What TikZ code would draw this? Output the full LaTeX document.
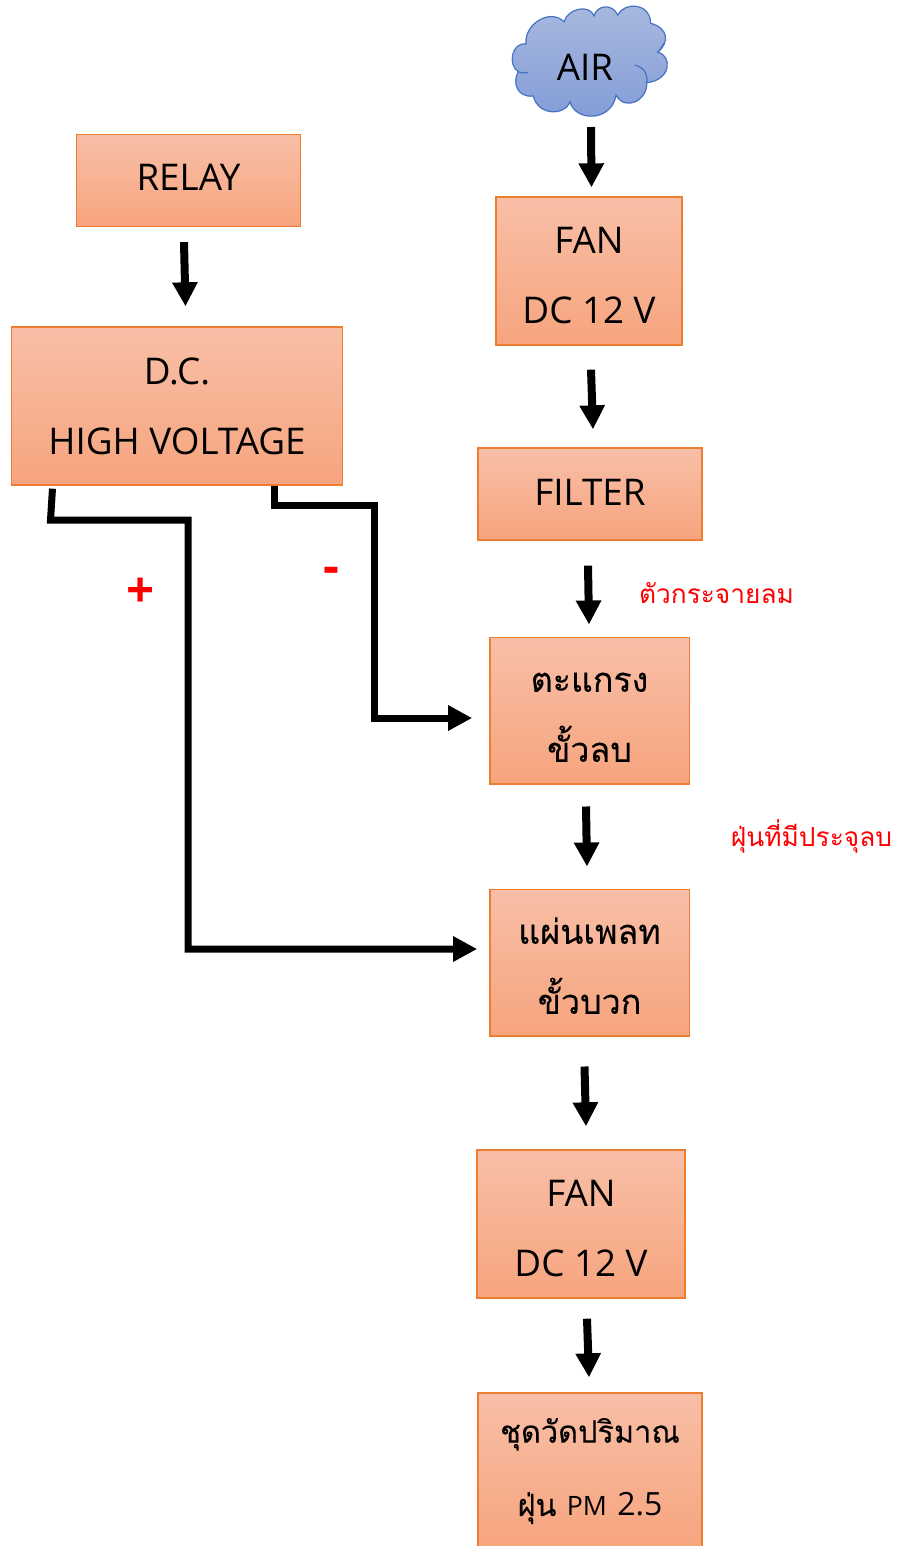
\documentclass[tikz,border=0pt]{standalone}
\usepackage{fontspec}
\setmainfont{Open Sans}
\newfontfamily\thaifont[Script=Thai]{Loma}
\newfontfamily\thaiboxfont[Script=Thai,FakeBold=0.2]{Loma}
\usetikzlibrary{arrows.meta}
\definecolor{boxedge}{HTML}{ED7D31}
\definecolor{boxtop}{HTML}{F8BFA7}
\definecolor{boxbottom}{HTML}{F7A47E}
\definecolor{cloudedge}{HTML}{4472C4}
\definecolor{cloudtop}{HTML}{A9B9DF}
\definecolor{cloudbottom}{HTML}{829CD6}
\tikzset{
    flowbox/.style={draw=boxedge, line width=1pt, top color=boxtop, bottom color=boxbottom,
        align=center, inner sep=0pt, text=black, font=\fontsize{27.6}{52.5}\selectfont},
    thaibox/.style={flowbox, font=\fontsize{25.5}{52.5}\selectfont\thaiboxfont},
    flowarrow/.style={line width=6pt, -{Triangle[length=18pt,width=18pt]}},
    wirearrow/.style={line width=5.25pt, miter limit=10, -{Triangle[length=18pt,width=18pt]}},
    redlabel/.style={text=red, font=\fontsize{19.7}{24}\selectfont\thaifont, inner sep=0pt},
    signlabel/.style={text=red, font=\fontsize{37}{40}\bfseries, inner sep=0pt}
}
\begin{document}
\begin{tikzpicture}[x=0.75pt, y=-0.75pt]
    \useasboundingbox (0,0) rectangle (899,1546);

    % Cloud
    \draw[draw=cloudedge, line width=0.9pt, top color=cloudtop, bottom color=cloudbottom]
        (526,44) .. controls (524,24) and (550,8) .. (564,21.7)
        .. controls (568,8) and (590,4) .. (594,16)
        .. controls (597,5) and (612,3) .. (617.7,15)
        .. controls (624,2) and (650,2) .. (650.7,23.3)
        .. controls (668,28) and (670,42) .. (657.7,52.3)
        .. controls (672,55) and (672,80) .. (646.7,82.7)
        .. controls (648,100) and (625,112) .. (616,95)
        .. controls (612,122) and (575,122) .. (570,101.7)
        .. controls (565,116) and (538,116) .. (533.3,96)
        .. controls (517,98) and (512,82) .. (518.3,71.7)
        .. controls (508,66) and (511,42) .. (526,44) -- cycle;
    \draw[draw=cloudedge, line width=0.9pt]
        (518.3,71.7) .. controls (521,73) and (525,73) .. (528,72.7)
        (635,65) .. controls (645,68) and (648,75) .. (646.7,82.7)
        (657.7,52.3) .. controls (660,50) and (662,47) .. (664,43);
    \node[inner sep=0pt, font=\fontsize{27.6}{32}\selectfont] (air) at (585,67) {AIR};
    \coordinate (airbase) at (591,116);

    % Right column
    \node[flowbox, minimum width=139.5pt, minimum height=111pt] (fanin) at (589,271) {\rule{0pt}{27pt}FAN\\DC 12 V};
    \node[flowbox, minimum width=168pt, minimum height=69pt] (filter) at (590,494) {\rule[-3pt]{0pt}{0pt}FILTER};
    \node[thaibox, minimum width=149.5pt, minimum height=110pt] (grid) at (589.5,710.5) {\rule{0pt}{24.5pt}ตะแกรง\\ขั้วลบ};
    \node[thaibox, minimum width=149.5pt, minimum height=110pt] (plate) at (589.5,962.5) {\rule{0pt}{24.5pt}แผ่นเพลท\\ขั้วบวก};
    \node[flowbox, minimum width=156pt, minimum height=111pt] (fanout) at (581,1224) {\rule{0pt}{27pt}FAN\\DC 12 V};
    \node[thaibox, minimum width=168pt, minimum height=117pt, font=\fontsize{23}{55}\selectfont\thaiboxfont] (meter) at (590,1471)
        {ชุดวัดปริมาณ\\ฝุ่น {\rmfamily\fontsize{20}{55}\selectfont PM} {\rmfamily\fontsize{24}{55}\selectfont 2.5}};

    % Left column
    \node[flowbox, minimum width=168pt, minimum height=69pt] (relay) at (188.5,180.5) {\rule[-4.5pt]{0pt}{0pt}RELAY};
    \node[flowbox, minimum width=248pt, minimum height=118.5pt] (dc) at (177,406) {D.C.\\HIGH VOLTAGE};

    % Flow arrows
    \draw[flowarrow] ([shift={(0,11)}]airbase) -- ([shift={(2.5,-9)}]fanin.north);
    \draw[flowarrow] ([shift={(2,24)}]fanin.south) -- ([shift={(3,-18)}]filter.north);
    \draw[flowarrow] ([shift={(-2,25)}]filter.south) -- ([shift={(-0.5,-12)}]grid.north);
    \draw[flowarrow] ([shift={(-3.5,22)}]grid.south) -- ([shift={(-2.5,-22)}]plate.north);
    \draw[flowarrow] ([shift={(-5,30)}]plate.south) -- ([shift={(5,-23)}]fanout.north);
    \draw[flowarrow] ([shift={(6,20)}]fanout.south) -- ([shift={(-1,-15)}]meter.north);
    \draw[flowarrow] ([shift={(-4.5,15)}]relay.south) -- ([shift={(8.5,-20)}]dc.north);

    % Supply wires
    \coordinate (posleft) at (50.5,520);
    \coordinate (posright) at (188,520);
    \coordinate (negleft) at (274,505);
    \coordinate (negright) at (374,505);
    \draw[wirearrow] ([shift={(-124.5,3)}]dc.south) -- (posleft) -- (posright) |- ([shift={(-12,-13.5)}]plate.west);
    \draw[wirearrow] (dc.south -| negleft) -- (negleft) -- (negright) |- ([shift={(-17,7.5)}]grid.west);

    % Labels
    \node[signlabel] (plus) at (140.5,593) {+};
    \node[signlabel] (minus) at (331,575) {-};
    \node[redlabel] (spread) at (716.5,593) {ตัวกระจายลม};
    \node[redlabel] (charged) at (811.5,836) {ฝุ่นที่มีประจุลบ};
\end{tikzpicture}
\end{document}
